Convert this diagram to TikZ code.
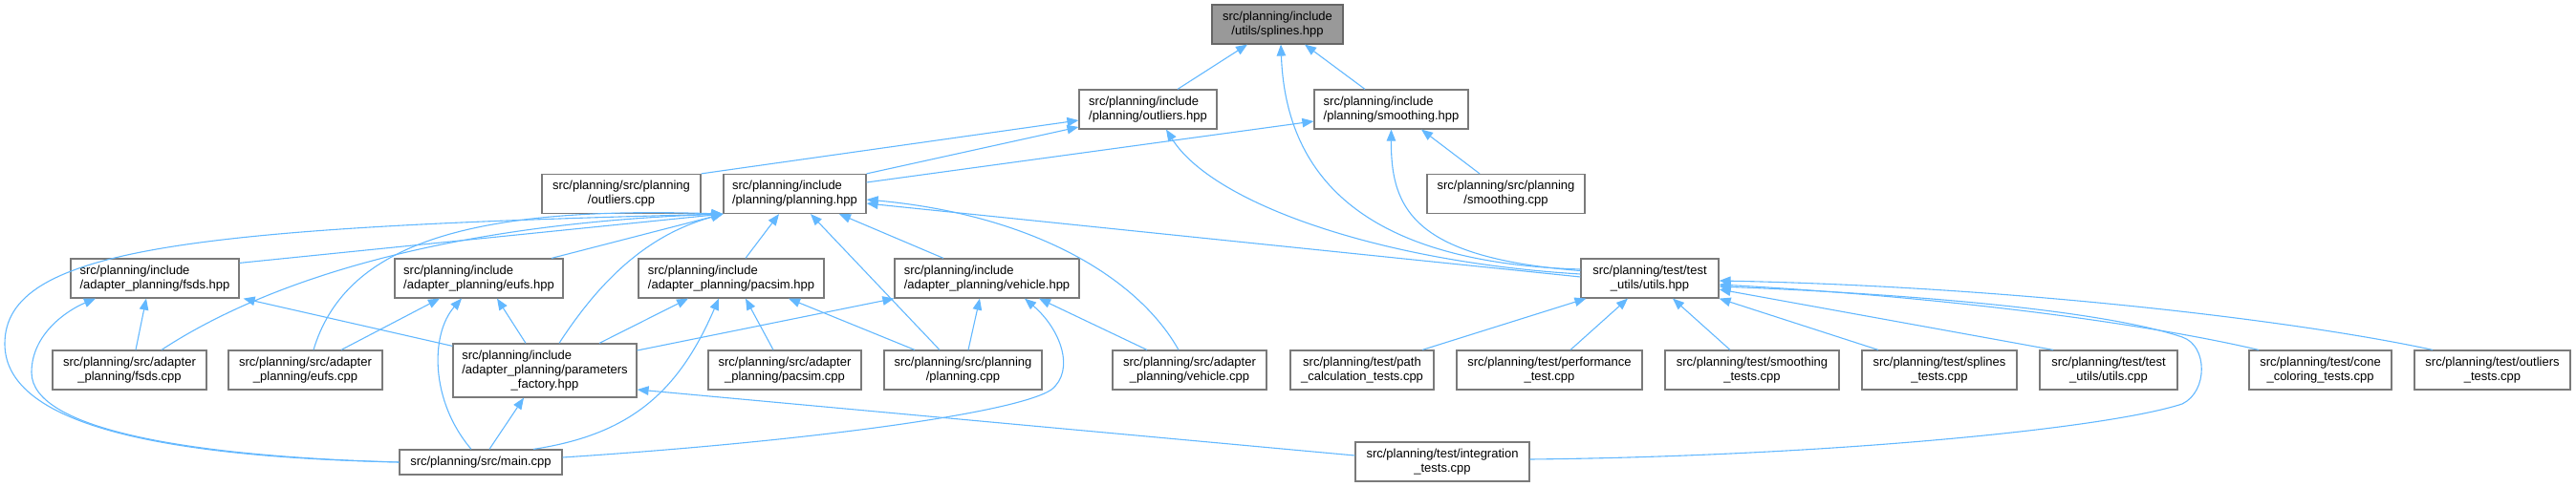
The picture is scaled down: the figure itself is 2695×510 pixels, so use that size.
\documentclass[tikz,border=0pt]{standalone}
\usepackage{fontspec}
\setmainfont{Liberation Sans}
\usepackage{tikz}
\usetikzlibrary{arrows.meta}
\definecolor{EdgeBlue}{HTML}{63B8FF}
\definecolor{BoxLine}{HTML}{7A7A7A}
\definecolor{RootFill}{HTML}{999999}
\definecolor{RootLine}{HTML}{666666}

\begin{document}
\begin{tikzpicture}[x=1pt, y=-1pt, >={Triangle[length=12pt,width=9.5pt]},
    filebox/.style={draw=BoxLine, line width=1.2pt, fill=white, inner xsep=4pt, inner ysep=2pt,
        minimum height=41pt, align=center, font=\fontsize{13}{15}\selectfont},
    hdrbox/.style={filebox, align=left},
    rootbox/.style={filebox, fill=RootFill, draw=RootLine},
    incl/.style={->, EdgeBlue, line width=1.1pt}]
    \useasboundingbox (0,0) rectangle (2695,510);

    % Root header
    \node[rootbox, minimum width=137pt] (spl) at (1336.5,25.5) {src/planning/include\\/utils/splines.hpp};

    % Planning headers
    \node[hdrbox, minimum width=144pt] (outh) at (1201,114.5) {src/planning/include\\/planning/outliers.hpp};
    \node[hdrbox, minimum width=161pt] (smoh) at (1455.5,114.5) {src/planning/include\\/planning/smoothing.hpp};
    \node[filebox, minimum width=166pt] (outc) at (650,203) {src/planning/src/planning\\/outliers.cpp};
    \node[hdrbox, minimum width=149pt] (plah) at (831.5,203) {src/planning/include\\/planning/planning.hpp};
    \node[filebox, minimum width=165pt] (smoc) at (1575.5,203) {src/planning/src/planning\\/smoothing.cpp};

    % Adapter headers and test utils
    \node[hdrbox, minimum width=176pt] (fsdsh) at (162,291.5) {src/planning/include\\/adapter\_planning/fsds.hpp};
    \node[hdrbox, minimum width=176pt] (eufsh) at (501,291.5) {src/planning/include\\/adapter\_planning/eufs.hpp};
    \node[hdrbox, minimum width=194pt] (pach) at (765,291.5) {src/planning/include\\/adapter\_planning/pacsim.hpp};
    \node[hdrbox, minimum width=193pt] (vehh) at (1032.5,291.5) {src/planning/include\\/adapter\_planning/vehicle.hpp};
    \node[filebox, minimum width=144pt] (tuh) at (1726,291.5) {src/planning/test/test\\\_utils/utils.hpp};

    % Sources and tests
    \node[filebox, minimum width=161pt] (fsdsc) at (135.5,387.5) {src/planning/src/adapter\\\_planning/fsds.cpp};
    \node[filebox, minimum width=161pt] (eufsc) at (319.5,387.5) {src/planning/src/adapter\\\_planning/eufs.cpp};
    \node[filebox, minimum width=192pt, minimum height=56pt] (parh) at (570,388)
        {\rlap{src/planning/include}\phantom{/adapter\_planning/parameters}\\/adapter\_planning/parameters\\\_factory.hpp};
    \node[filebox, minimum width=160pt] (pacc) at (821,387.5) {src/planning/src/adapter\\\_planning/pacsim.cpp};
    \node[filebox, minimum width=165pt] (plac) at (1007.5,387.5) {src/planning/src/planning\\/planning.cpp};
    \node[filebox, minimum width=161pt] (vehc) at (1244.5,387.5) {src/planning/src/adapter\\\_planning/vehicle.cpp};
    \node[filebox, minimum width=150pt] (pathc) at (1425,387.5) {src/planning/test/path\\\_calculation\_tests.cpp};
    \node[filebox, minimum width=194pt] (perfc) at (1621,387.5) {src/planning/test/performance\\\_test.cpp};
    \node[filebox, minimum width=182pt] (smotc) at (1833,387.5) {src/planning/test/smoothing\\\_tests.cpp};
    \node[filebox, minimum width=162pt] (spltc) at (2029,387.5) {src/planning/test/splines\\\_tests.cpp};
    \node[filebox, minimum width=144pt] (tuc) at (2206,387.5) {src/planning/test/test\\\_utils/utils.cpp};
    \node[filebox, minimum width=149pt] (conec) at (2427.5,387.5) {src/planning/test/cone\\\_coloring\_tests.cpp};
    \node[filebox, minimum width=163pt] (outtc) at (2607.5,387.5) {src/planning/test/outliers\\\_tests.cpp};

    % Bottom row
    \node[filebox, minimum width=170pt, minimum height=26pt] (mainc) at (503,484) {src/planning/src/main.cpp};
    \node[filebox, minimum width=182pt] (intc) at (1509,483.5) {src/planning/test/integration\\\_tests.cpp};

    % Includes of splines.hpp
    \draw[incl] ([xshift=31pt]outh.north) -- ([xshift=-31.5pt]spl.south);
    \draw[incl] ([xshift=-27.5pt]smoh.north) -- ([xshift=28.5pt]spl.south);
    \draw[incl] ([yshift=9.5pt]tuh.west) .. controls (1420,275) and (1345,180) .. ([xshift=3.5pt]spl.south);

    % Includes of outliers.hpp
    \draw[incl] (outc.north east) -- ([yshift=-11.5pt]outh.west);
    \draw[incl] (plah.north east) -- ([yshift=-18.5pt]outh.west);
    \draw[incl] ([yshift=4.5pt]tuh.west) .. controls (1450,275) and (1270,215) .. ([xshift=19pt]outh.south);

    % Includes of smoothing.hpp
    \draw[incl] ([yshift=12pt]plah.east) -- ([yshift=-12.5pt]smoh.west);
    \draw[incl] ([yshift=8pt]tuh.west) .. controls (1480,270) and (1455,220) .. (smoh.south);
    \draw[incl] ([xshift=-27.5pt]smoc.north) -- ([xshift=31.5pt]smoh.south);

    % Includes of planning.hpp
    \draw[incl] ([yshift=1.5pt]tuh.west) -- ([yshift=-10pt]plah.east);
    \draw[incl] ([xshift=-11.5pt]vehc.north) .. controls (1190,290) and (1080,225) .. ([yshift=-6pt]plah.east);
    \draw[incl] ([xshift=-24.5pt]plac.north) -- ([xshift=16.5pt]plah.south);
    \draw[incl] ([xshift=-45.5pt]vehh.north) -- ([xshift=46.5pt]plah.south);
    \draw[incl] ([xshift=15pt]pach.north) -- ([xshift=-16.5pt]plah.south);
    \draw[incl] ([xshift=15pt]parh.north) .. controls (630,290) and (680,245) .. (plah.south west);
    \draw[incl] ([xshift=76pt]eufsh.north) -- (plah.south west);
    \draw[incl] ([yshift=-5pt]fsdsh.north east) -- (plah.south west);
    \draw[incl] ([xshift=33.5pt]fsdsc.north) .. controls (270,300) and (450,235) .. (plah.south west);
    \draw[incl] ([xshift=8.5pt]eufsc.north) .. controls (360,260) and (480,215) .. (plah.south west);
    \draw[incl] (mainc.west) .. controls (150,478) and (5,440) .. (5,360)
        .. controls (5,260) and (200,238) .. (plah.south west);

    % Includes of fsds.hpp
    \draw[incl] ([xshift=6.5pt]fsdsc.north) -- ([xshift=-9pt]fsdsh.south);
    \draw[incl] ([yshift=-3pt]parh.north west) -- ([xshift=4pt]fsdsh.south east);
    \draw[incl] (mainc.west) .. controls (200,478) and (33,450) .. (33,390)
        .. controls (33,350) and (70,325) .. ([xshift=-62pt]fsdsh.south);

    % Includes of eufs.hpp
    \draw[incl] ([xshift=37.5pt]eufsc.north) -- ([xshift=-41pt]eufsh.south);
    \draw[incl] ([xshift=-10pt]mainc.north) .. controls (450,420) and (450,350) .. ([xshift=-18pt]eufsh.south);
    \draw[incl] ([xshift=-20pt]parh.north) -- ([xshift=19pt]eufsh.south);

    % Includes of pacsim.hpp
    \draw[incl] ([xshift=57pt]parh.north) -- ([xshift=-45pt]pach.south);
    \draw[incl] ([xshift=55pt]mainc.north) .. controls (660,455) and (710,410) .. ([xshift=-13pt]pach.south);
    \draw[incl] ([xshift=-12pt]pacc.north) -- ([xshift=15pt]pach.south);
    \draw[incl] ([xshift=-50.5pt]plac.north) -- ([xshift=60pt]pach.south);

    % Includes of vehicle.hpp
    \draw[incl] ([yshift=21pt]parh.east) -- (vehh.south west);
    \draw[incl] ([xshift=5.5pt]plac.north) -- ([xshift=-7.5pt]vehh.south);
    \draw[incl] ([yshift=5pt]mainc.east) .. controls (850,462) and (1065,432) .. (1100,408)
        .. controls (1125,388) and (1110,345) .. ([xshift=39.5pt]vehh.south);
    \draw[incl] ([xshift=-44.5pt]vehc.north) -- ([xshift=54.5pt]vehh.south);

    % Includes of parameters_factory.hpp
    \draw[incl] ([xshift=9pt]mainc.north) -- ([xshift=-22pt]parh.south);
    \draw[incl] ([yshift=6.5pt]intc.west) -- ([yshift=-20pt]parh.east);

    % Includes of test utils.hpp
    \draw[incl] ([xshift=63pt]pathc.north) -- ([xshift=6pt]tuh.south west);
    \draw[incl] ([xshift=22pt]perfc.north) -- ([xshift=-23pt]tuh.south);
    \draw[incl] ([xshift=-23pt]smotc.north) -- ([xshift=24pt]tuh.south);
    \draw[incl] ([xshift=-64pt]spltc.north) -- (tuh.south east);
    \draw[incl] ([xshift=-58pt]tuc.north) -- ([yshift=-11.5pt]tuh.east);
    \draw[incl] ([xshift=-64.5pt]conec.north) .. controls (2250,340) and (2050,312) .. ([yshift=-6.5pt]tuh.east);
    \draw[incl] ([xshift=-62.5pt]outtc.north) .. controls (2400,335) and (2100,300) .. ([yshift=-2.5pt]tuh.east);
    \draw[incl] ([yshift=2.5pt]intc.east) .. controls (1900,478) and (2200,450) .. (2283,423)
        .. controls (2310,410) and (2310,362) .. (2283,353)
        .. controls (2200,325) and (2000,308) .. ([yshift=-8.5pt]tuh.east);

\end{tikzpicture}
\end{document}
